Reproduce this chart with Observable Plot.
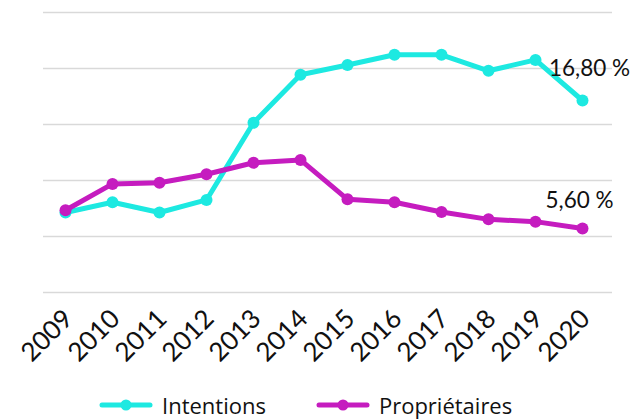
<!DOCTYPE html>
<html>
<head>
<meta charset="utf-8">
<script src="https://cdn.jsdelivr.net/npm/d3@7"></script>
<script src="https://cdn.jsdelivr.net/npm/@observablehq/plot@0.6"></script>
<style>
  html, body { margin: 0; padding: 0; background: #fff; }
  #chart { width: 644px; height: 420px; position: relative; }
  .legend { display: flex; align-items: center; height: 30px; padding-left: 99px;
    font-family: "Open Sans", sans-serif; font-size: 22px; line-height: 26px; color: #111; }
  .legend .item { display: flex; align-items: center; }
  .legend svg { display: block; }
</style>
</head>
<body>
<div id="chart"></div>
<script>
const years = [2009, 2010, 2011, 2012, 2013, 2014, 2015, 2016, 2017, 2018, 2019, 2020];
const intentions = [7.0, 7.9, 7.0, 8.1, 14.85, 19.05, 19.9, 20.8, 20.8, 19.4, 20.35, 16.8];
const proprietaires = [7.2, 9.5, 9.6, 10.35, 11.35, 11.6, 8.15, 7.9, 7.05, 6.4, 6.2, 5.6];
const seriesNames = ["Intentions", "Propriétaires"];
const seriesColors = ["#1de9e1", "#c51cbf"];
const gridTicks = [0, 4.9, 9.8, 14.7, 19.6, 24.5];

const rows = (name, vals) => years.map((y, i) => ({year: y, value: vals[i], series: name}));
const dataI = rows(seriesNames[0], intentions);
const dataP = rows(seriesNames[1], proprietaires);
const fmt = v => v.toFixed(2).replace(".", ",") + " %";
const lastI = [dataI[dataI.length - 1]];
const lastP = [dataP[dataP.length - 1]];

const font = "Lato, 'Open Sans', sans-serif";

const plot = Plot.plot({
  width: 644,
  height: 390,
  marginLeft: 43,
  marginRight: 32,
  marginTop: 12,
  marginBottom: 98,
  style: {fontFamily: font, background: "#fff"},
  x: {type: "point", domain: years, padding: 0, insetLeft: 19, insetRight: 27, label: null},
  y: {domain: [0, 24.5], axis: null},
  marks: [
    Plot.ruleY(gridTicks, {stroke: "#d9d9d9", strokeWidth: 1.6}),
    Plot.axisX({tickRotate: -45, tickSize: 0, tickPadding: 22, fontSize: 26, fill: "#111", tickFormat: d => String(d), dx: 3, label: null}),
    Plot.line(dataI, {x: "year", y: "value", stroke: seriesColors[0], strokeWidth: 5, strokeLinejoin: "round"}),
    Plot.dot(dataI, {x: "year", y: "value", fill: seriesColors[0], r: 6}),
    Plot.line(dataP, {x: "year", y: "value", stroke: seriesColors[1], strokeWidth: 5, strokeLinejoin: "round"}),
    Plot.dot(dataP, {x: "year", y: "value", fill: seriesColors[1], r: 6}),
    Plot.text(lastI, {x: "year", y: "value", text: d => fmt(d.value), dx: 7, dy: -32, fontSize: 22.5, fill: "#111", fontFamily: font}),
    Plot.text(lastP, {x: "year", y: "value", text: d => fmt(d.value), dx: -3, dy: -28, fontSize: 22.5, fill: "#111", fontFamily: font})
  ]
});
const chart = document.getElementById("chart");
chart.appendChild(plot);

const legend = document.createElement("div");
legend.className = "legend";
seriesNames.forEach((name, i) => {
  const item = document.createElement("div");
  item.className = "item";
  if (i > 0) item.style.marginLeft = "50px";
  const w = 54;
  item.innerHTML = `<svg width="${w}" height="14"><line x1="3" x2="${w-3}" y1="7" y2="7" stroke="${seriesColors[i]}" stroke-width="5" stroke-linecap="round"/><circle cx="${w/2}" cy="7" r="5.5" fill="${seriesColors[i]}"/></svg><span style="margin-left:9px">${name}</span>`;
  legend.appendChild(item);
});
chart.appendChild(legend);
</script>
</body>
</html>
